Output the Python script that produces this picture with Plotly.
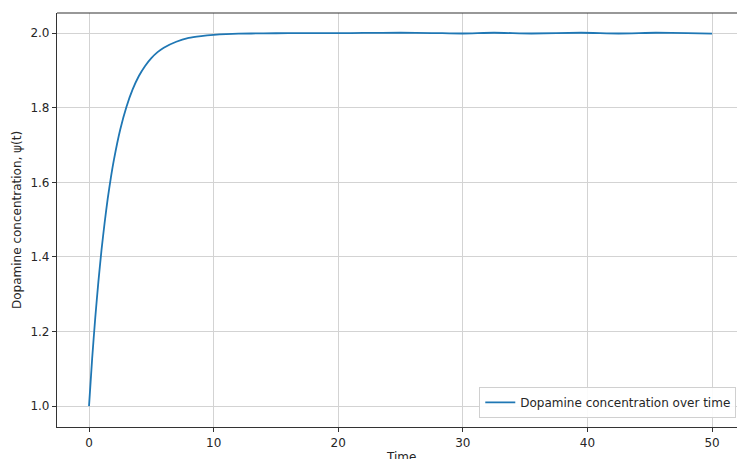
import plotly.graph_objects as go

# Data
time = [0, 0.25, 0.5, 0.75, 1, 1.25, 1.5, 1.75, 2, 2.5, 3, 3.5, 4, 4.5, 5, 5.5, 6, 7, 8, 9, 10,
        11, 12, 14, 16, 18, 20, 22, 25, 27.5, 30, 32.5, 35.5, 39.5, 42.5, 45.5, 48, 50]
psi = [1.000, 1.127, 1.237, 1.333, 1.418, 1.491, 1.556, 1.612, 1.661, 1.741, 1.802, 1.849,
       1.885, 1.912, 1.933, 1.949, 1.961, 1.977, 1.987, 1.992, 1.9955,
       1.9975, 1.9985, 1.9995, 1.9998, 2.0000, 2.0000, 2.0005, 2.0010, 2.0003, 1.9990,
       2.0010, 1.9990, 2.0010, 1.9990, 2.0010, 2.0002, 1.9985]

series_name = "Dopamine concentration over time"
x_title = "Time"
y_title = "Dopamine concentration, ψ(t)"
x_ticks = [0, 10, 20, 30, 40, 50]
y_ticks = [1.0, 1.2, 1.4, 1.6, 1.8, 2.0]

fig = go.Figure()
fig.add_trace(go.Scatter(x=time, y=psi, mode="lines", name=series_name,
                         line=dict(color="#1f77b4", width=1.8, shape="spline", smoothing=0.6)))

font = dict(family="DejaVu Sans", size=12, color="#262626")
fig.update_layout(
    width=737, height=459,
    margin=dict(l=57, r=0, t=13, b=32),
    plot_bgcolor="white", paper_bgcolor="white",
    font=font,
    showlegend=True,
    legend=dict(x=0.621, y=0.022, xanchor="left", yanchor="bottom",
                bgcolor="rgba(255,255,255,0.9)", bordercolor="#d0d0d0", borderwidth=1,
                font=dict(family="DejaVu Sans", size=12, color="#262626"),
                itemwidth=30, tracegroupgap=0),
    xaxis=dict(range=[-2.57, 52.0], tickvals=x_ticks, ticktext=[str(v) for v in x_ticks],
               showgrid=True, gridcolor="#d3d3d3", gridwidth=1.3, zeroline=False,
               showline=True, linecolor="#333333", linewidth=1.2,
               ticks="outside", ticklen=4, tickcolor="#333333", tickwidth=1),
    yaxis=dict(range=[0.944, 2.054], tickvals=y_ticks, ticktext=[f"{v:.1f}" for v in y_ticks],
               showgrid=True, gridcolor="#d3d3d3", gridwidth=1.3, zeroline=False,
               showline=True, linecolor="#333333", linewidth=1.2,
               ticks="outside", ticklen=4, tickcolor="#333333", tickwidth=1),
    shapes=[dict(type="line", xref="paper", yref="paper", x0=0, x1=1, y0=1, y1=1,
                 line=dict(color="#333333", width=1.2))],
    annotations=[
        dict(text=x_title, xref="x", yref="paper", x=25, y=0, yshift=-21,
             xanchor="center", yanchor="top", showarrow=False, font=font),
        dict(text=y_title, xref="paper", yref="paper", x=0, y=0.5, xshift=-40,
             xanchor="center", yanchor="middle", textangle=-90, showarrow=False, font=font),
    ],
)

fig.write_html("out.html")
